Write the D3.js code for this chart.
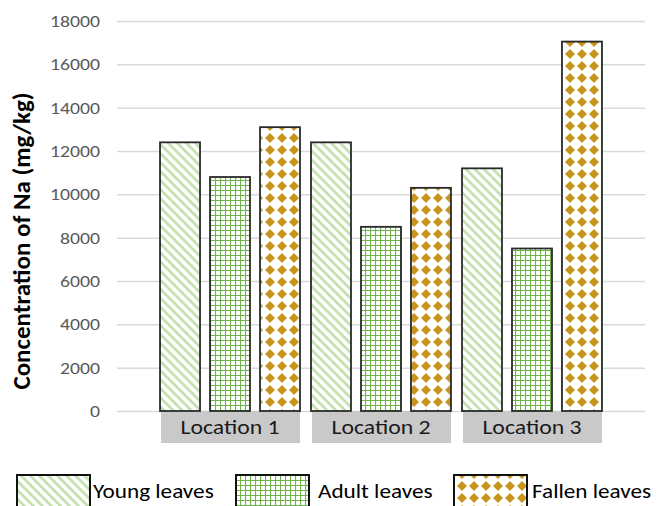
<!DOCTYPE html>
<html>
<head>
<meta charset="utf-8">
<script src="https://cdn.jsdelivr.net/npm/d3@7/dist/d3.min.js"></script>
<style>
  html, body { margin: 0; padding: 0; background: #fff; }
  svg { display: block; }
  text { font-family: Carlito, Calibri, "Open Sans", sans-serif; }
</style>
</head>
<body>
<svg id="chart" width="657" height="506"></svg>
<script>
// Sodium concentration in leaves by location
const locations = ["Location 1", "Location 2", "Location 3"];
const seriesNames = ["Young leaves", "Adult leaves", "Fallen leaves"];
const youngLeaves  = [12400, 12400, 11200];
const adultLeaves  = [10800, 8500, 7500];
const fallenLeaves = [13100, 10300, 17050];
const yTicks = [0, 2000, 4000, 6000, 8000, 10000, 12000, 14000, 16000, 18000];
const yTitle = "Concentration of Na (mg/kg)";

const seriesValues = [youngLeaves, adultLeaves, fallenLeaves];
const patternIds = ["pat-young", "pat-adult", "pat-fallen"];
const fontStack = "Carlito, Calibri, 'Open Sans', sans-serif";
const stretch = 1.16; // horizontal widening of the labels

const svg = d3.select("#chart");
const defs = svg.append("defs");

// Light green diagonal stripes
const pY = defs.append("pattern").attr("id", "pat-young")
  .attr("patternUnits", "userSpaceOnUse").attr("width", 6.4).attr("height", 6.4)
  .attr("patternTransform", "rotate(45)");
pY.append("rect").attr("width", 6.4).attr("height", 6.4).attr("fill", "#fff");
pY.append("rect").attr("x", 0).attr("y", 0).attr("width", 6.4).attr("height", 2.8)
  .attr("fill", "#c4e2b0");

// Green small grid
const pA = defs.append("pattern").attr("id", "pat-adult")
  .attr("patternUnits", "userSpaceOnUse").attr("width", 5).attr("height", 5);
pA.append("rect").attr("width", 5).attr("height", 5).attr("fill", "#fff");
pA.append("path").attr("d", "M0,0.5H5M0.5,0V5")
  .attr("stroke", "#6fb34a").attr("stroke-width", 1.2).attr("fill", "none");

// Gold diamonds
const pF = defs.append("pattern").attr("id", "pat-fallen")
  .attr("patternUnits", "userSpaceOnUse").attr("width", 12).attr("height", 12);
pF.append("rect").attr("width", 12).attr("height", 12).attr("fill", "#fff");
pF.append("path").attr("d", "M6,1L11,6L6,11L1,6Z").attr("fill", "#c8961f");

const plotLeft = 117, plotRight = 645, plotTop = 21, plotBottom = 411;

const y = d3.scaleLinear().domain([0, 18000]).range([plotBottom, plotTop]);
const x = d3.scaleBand().domain(locations).range([plotLeft, plotRight])
  .paddingInner(0.073).paddingOuter(0.285);
const xs = d3.scaleBand().domain(seriesNames).range([0, x.bandwidth()])
  .paddingInner(0.2).paddingOuter(0);

// Gridlines and value labels
const yAxis = d3.axisLeft(y).tickValues(yTicks).tickSize(-(plotRight - plotLeft))
  .tickPadding(17).tickFormat(d3.format("d"));
const gy = svg.append("g").attr("transform", `translate(${plotLeft},0)`).call(yAxis);
gy.select(".domain").remove();
gy.selectAll(".tick line").attr("stroke", "#d9d9d9").attr("stroke-width", 1.5);
gy.selectAll(".tick text").attr("fill", "#595959").attr("font-size", 17)
  .attr("x", -17 / stretch).attr("transform", `scale(${stretch},1)`)
  .style("font-family", fontStack);

// Category label boxes
const cat = svg.append("g").selectAll("g").data(locations).join("g")
  .attr("transform", d => `translate(${x(d)},0)`);
cat.append("rect").attr("x", 1).attr("y", plotBottom).attr("width", x.bandwidth() - 1)
  .attr("height", 32).attr("fill", "#c9c9c9");
cat.append("text")
  .attr("transform", `translate(${x.bandwidth() / 2},${plotBottom + 23}) scale(${stretch},1)`)
  .attr("text-anchor", "middle").attr("font-size", 20.5).attr("fill", "#1a1a1a")
  .text(d => d);

// Bars
seriesNames.forEach((s, si) => {
  svg.append("g").selectAll("rect").data(locations).join("rect")
    .attr("x", (d) => x(d) + xs(s))
    .attr("y", (d, i) => y(seriesValues[si][i]))
    .attr("width", xs.bandwidth())
    .attr("height", (d, i) => y(0) - y(seriesValues[si][i]))
    .attr("fill", `url(#${patternIds[si]})`)
    .attr("stroke", "#2a2a2a").attr("stroke-width", 1.8);
});

// Y axis title
svg.append("text")
  .attr("transform", "translate(30,241) rotate(-90)")
  .attr("text-anchor", "middle").attr("font-size", 25).attr("font-weight", "bold")
  .attr("fill", "#000").text(yTitle);

// Legend
const legendBoxX = [17, 236, 454];
const legendTextX = [93, 318, 532];
const lg = svg.append("g").selectAll("g").data(seriesNames).join("g");
lg.append("rect").attr("x", (d, i) => legendBoxX[i]).attr("y", 475)
  .attr("width", 73).attr("height", 40)
  .attr("fill", (d, i) => `url(#${patternIds[i]})`)
  .attr("stroke", "#111").attr("stroke-width", 2);
lg.append("text")
  .attr("transform", (d, i) => `translate(${legendTextX[i]},498) scale(${stretch},1)`)
  .attr("font-size", 20).attr("fill", "#000").text(d => d);
</script>
</body>
</html>
